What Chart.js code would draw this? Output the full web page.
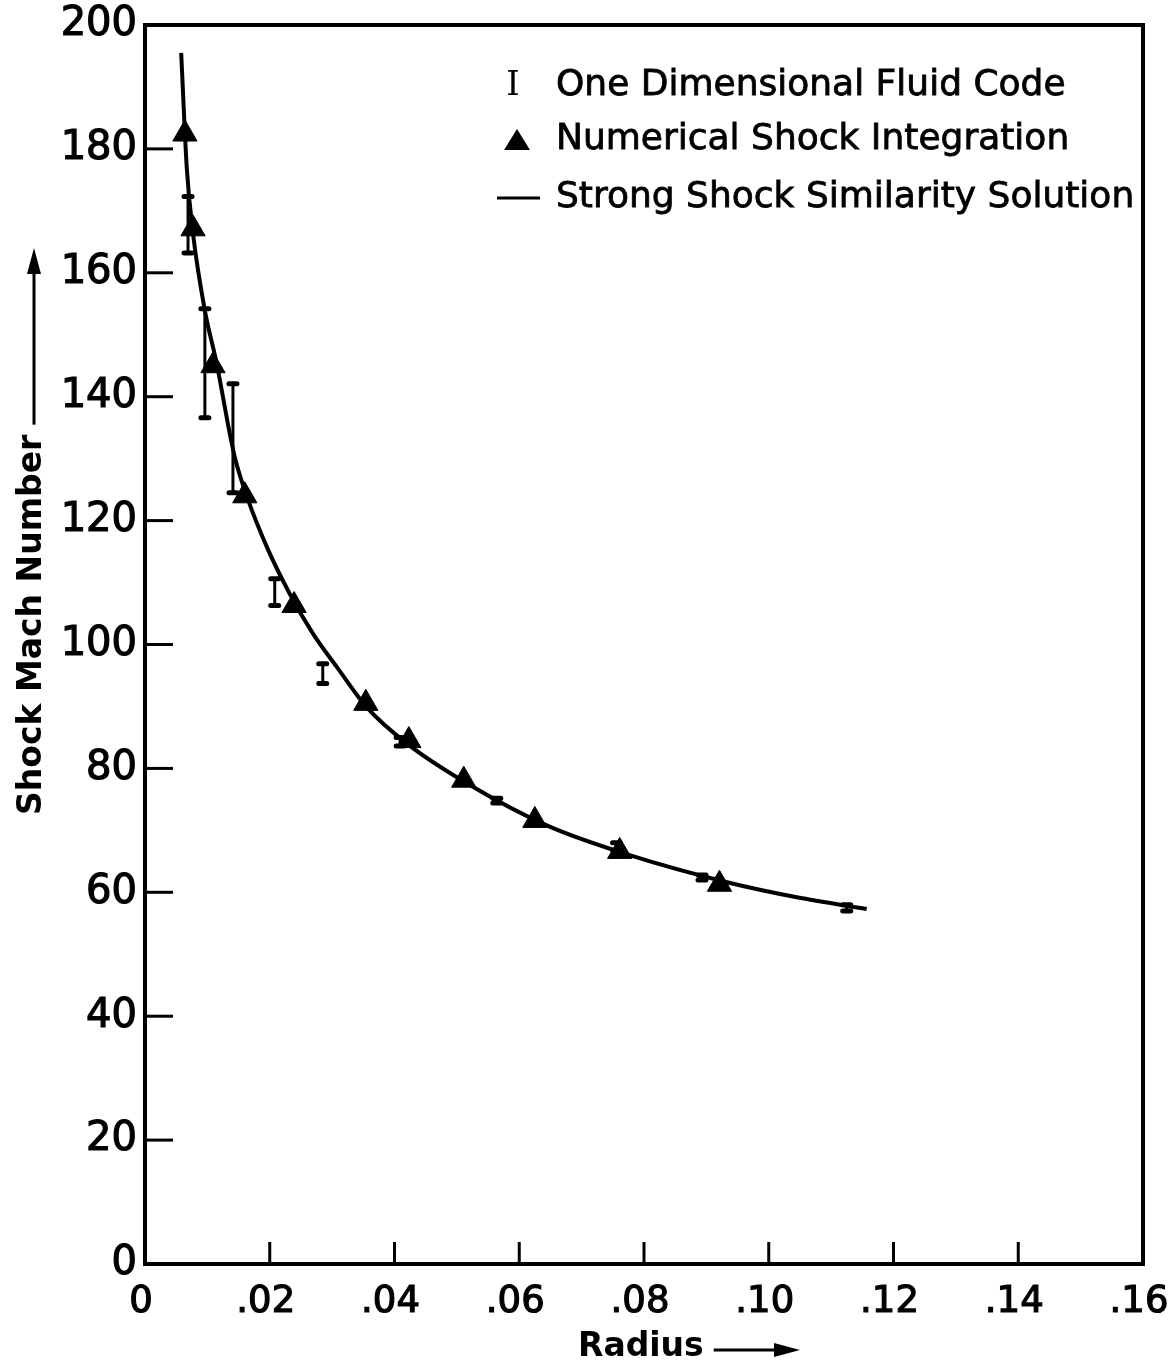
<!DOCTYPE html>
<html>
<head>
<meta charset="utf-8">
<script src="https://cdn.jsdelivr.net/npm/chart.js@4.4.1/dist/chart.umd.min.js"></script>
<style>
	html, body { margin: 0; padding: 0; background: #fff; }
</style>
</head>
<body>
<canvas id="shockChart" width="1172" height="1368"></canvas>
<script>
// tick labels
var xTickLabels = ["0", ".02", ".04", ".06", ".08", ".10", ".12", ".14", ".16"];
var yTickLabels = ["0", "20", "40", "60", "80", "100", "120", "140", "160", "180", "200"];

// strong shock similarity solution
var curveX = [0.0058, 0.0067, 0.0077, 0.0096, 0.0115, 0.0136, 0.0144, 0.0164, 0.0196, 0.0232, 0.0269, 0.0308, 0.0356, 0.0420, 0.0516, 0.0644, 0.0777, 0.0938, 0.1045, 0.1157];
var curveY = [195.5, 176.9, 166.3, 153.9, 145.3, 134.0, 130.2, 123.7, 115.6, 108.2, 101.8, 96.3, 89.8, 84.0, 77.6, 70.8, 66.0, 61.5, 59.2, 57.3];

// numerical shock integration (triangles)
var triX = [0.0064, 0.0077, 0.0109, 0.0160, 0.0239, 0.0354, 0.0423, 0.0511, 0.0625, 0.0761, 0.0921];
var triY = [182.4, 167.1, 145.0, 124.0, 106.3, 90.5, 84.5, 78.1, 71.6, 66.6, 61.3];

// one dimensional fluid code (error bars)
var fluidX = [0.0069, 0.0096, 0.0141, 0.0208, 0.0285, 0.0409, 0.0564, 0.0756, 0.0893, 0.1125];
var fluidHigh = [172.3, 154.2, 142.1, 110.6, 96.9, 85.0, 75.2, 68.0, 62.8, 58.0];
var fluidLow = [163.2, 136.6, 124.5, 106.3, 93.7, 83.6, 74.4, 66.8, 62.0, 57.0];

var legendLabels = ["One Dimensional Fluid Code", "Numerical Shock Integration", "Strong Shock Similarity Solution"];

function points(xs, ys) {
	var out = [];
	for (var i = 0; i < xs.length; i++) {
		out.push({ x: xs[i], y: ys[i] });
	}
	return out;
}

function fluidCenters() {
	var out = [];
	for (var i = 0; i < fluidX.length; i++) {
		out.push({ x: fluidX[i], y: (fluidHigh[i] + fluidLow[i]) / 2 });
	}
	return out;
}

function arrow(ctx, x1, y1, x2, y2) {
	var ang = Math.atan2(y2 - y1, x2 - x1);
	var head = 26;
	ctx.save();
	ctx.lineWidth = 3;
	ctx.beginPath();
	ctx.moveTo(x1, y1);
	ctx.lineTo(x2 - head * Math.cos(ang) * 0.6, y2 - head * Math.sin(ang) * 0.6);
	ctx.stroke();
	ctx.translate(x2, y2);
	ctx.rotate(ang);
	ctx.beginPath();
	ctx.moveTo(0, 0);
	ctx.lineTo(-head, -7);
	ctx.lineTo(-head, 7);
	ctx.closePath();
	ctx.fill();
	ctx.restore();
}

var decorPlugin = {
	id: "decor",
	afterDatasetsDraw: function (chart) {
		var ctx = chart.ctx;
		var xs = chart.scales.x;
		var ys = chart.scales.y;
		var area = chart.chartArea;
		ctx.save();
		ctx.strokeStyle = "#000";
		ctx.fillStyle = "#000";

		// error bars
		ctx.lineCap = "round";
		for (var i = 0; i < fluidX.length; i++) {
			var px = xs.getPixelForValue(fluidX[i]);
			var top = ys.getPixelForValue(fluidHigh[i]);
			var bot = ys.getPixelForValue(fluidLow[i]);
			ctx.lineWidth = 3;
			ctx.beginPath();
			ctx.moveTo(px, top);
			ctx.lineTo(px, bot);
			ctx.stroke();
			ctx.lineWidth = 5;
			ctx.beginPath();
			ctx.moveTo(px - 4, top);
			ctx.lineTo(px + 4, top);
			ctx.moveTo(px - 4, bot);
			ctx.lineTo(px + 4, bot);
			ctx.stroke();
		}

		// frame
		ctx.lineCap = "butt";
		ctx.lineWidth = 4;
		ctx.strokeRect(area.left, area.top, area.right - area.left, area.bottom - area.top);

		// inward ticks
		ctx.lineWidth = 3;
		ys.ticks.forEach(function (t) {
			if (t.value <= 0 || t.value >= 200) return;
			var py = ys.getPixelForValue(t.value);
			ctx.beginPath();
			ctx.moveTo(area.left, py);
			ctx.lineTo(area.left + 28, py);
			ctx.stroke();
		});
		xs.ticks.forEach(function (t) {
			if (t.value <= 0.0001 || t.value >= 0.1599) return;
			var px = xs.getPixelForValue(t.value);
			ctx.beginPath();
			ctx.moveTo(px, area.bottom);
			ctx.lineTo(px, area.bottom - 22);
			ctx.stroke();
		});
		ctx.restore();
	},
	afterDraw: function (chart) {
		var ctx = chart.ctx;
		ctx.save();
		ctx.fillStyle = "#000";
		ctx.strokeStyle = "#000";
		ctx.textBaseline = "middle";

		// legend
		var rowsY = [86, 140, 198];
		ctx.font = "34px 'DejaVu Serif'";
		ctx.textAlign = "center";
		ctx.fillText("I", 513, rowsY[0]);
		ctx.beginPath();
		ctx.moveTo(517, rowsY[1] - 11);
		ctx.lineTo(530, rowsY[1] + 10);
		ctx.lineTo(504, rowsY[1] + 10);
		ctx.closePath();
		ctx.fill();
		ctx.lineWidth = 3;
		ctx.beginPath();
		ctx.moveTo(497, rowsY[2]);
		ctx.lineTo(540, rowsY[2]);
		ctx.stroke();
		ctx.textAlign = "left";
		ctx.font = "36px 'DejaVu Sans'";
		ctx.lineWidth = 0.8;
		for (var i = 0; i < legendLabels.length; i++) {
			ctx.fillText(legendLabels[i], 556, rowsY[i]);
			ctx.strokeText(legendLabels[i], 556, rowsY[i]);
		}

		// axis titles
		ctx.font = "bold 33px 'DejaVu Sans'";
		ctx.fillText("Radius", 578, 1347);
		var w = ctx.measureText("Radius").width;
		arrow(ctx, 578 + w + 10, 1350, 800, 1350);

		ctx.save();
		ctx.translate(32, 815);
		ctx.rotate(-Math.PI / 2);
		ctx.fillText("Shock Mach Number", 0, 0);
		var w2 = ctx.measureText("Shock Mach Number").width;
		arrow(ctx, w2 + 10, 2, 815 - 248, 2);
		ctx.restore();

		ctx.restore();
	}
};

var ctx = document.getElementById("shockChart").getContext("2d");
var shockChart = new Chart(ctx, {
	type: "scatter",
	data: {
		datasets: [{
			label: legendLabels[1],
			data: points(triX, triY),
			pointStyle: "triangle",
			pointRadius: 14,
			backgroundColor: "#000",
			borderColor: "#000",
			borderWidth: 1
		}, {
			label: legendLabels[0],
			data: fluidCenters(),
			pointRadius: 0
		}, {
			type: "line",
			label: legendLabels[2],
			data: points(curveX, curveY),
			borderColor: "#000",
			borderWidth: 4,
			pointRadius: 0,
			fill: false,
			cubicInterpolationMode: "monotone"
		}]
	},
	options: {
		responsive: false,
		animation: false,
		devicePixelRatio: 1,
		layout: { padding: { top: 25, right: 29, left: 0, bottom: 0 } },
		plugins: {
			legend: { display: false },
			tooltip: { enabled: false }
		},
		scales: {
			x: {
				type: "linear",
				min: 0,
				max: 0.16,
				grid: { display: false, drawTicks: false },
				border: { display: false },
				ticks: {
					stepSize: 0.02,
					padding: 16,
					labelOffset: -4,
					color: "#000",
					textStrokeColor: "#000",
					textStrokeWidth: 1.2,
					font: { family: "'DejaVu Sans'", size: 37 },
					callback: function (v, i) { return xTickLabels[i]; }
				},
				afterFit: function (scale) {
					scale.height = 104;
					scale.paddingLeft = 0;
					scale.paddingRight = 0;
				}
			},
			y: {
				min: 0,
				max: 200,
				grid: { display: false, drawTicks: false },
				border: { display: false },
				ticks: {
					stepSize: 20,
					padding: 8,
					color: "#000",
					textStrokeColor: "#000",
					textStrokeWidth: 1.2,
					font: { family: "'DejaVu Sans'", size: 40 },
					callback: function (v, i) { return yTickLabels[i]; }
				},
				afterFit: function (scale) {
					scale.width = 145;
					scale.paddingTop = 0;
					scale.paddingBottom = 0;
				}
			}
		}
	},
	plugins: [decorPlugin]
});
</script>
</body>
</html>
